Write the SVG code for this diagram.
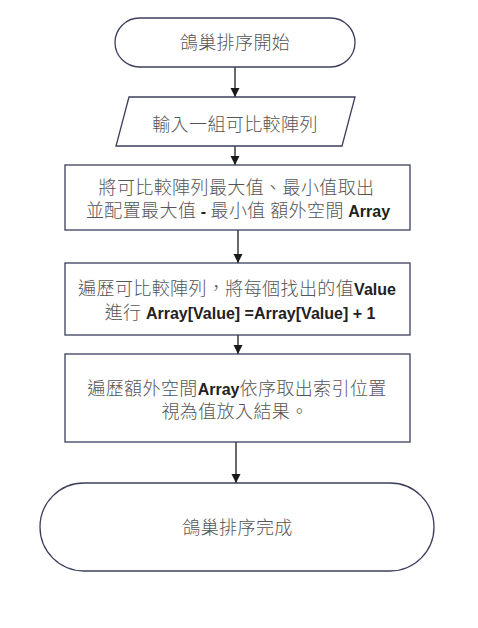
<svg xmlns="http://www.w3.org/2000/svg" width="478" height="628" viewBox="0 0 478 628">
<style>
.shape{fill:#ffffff;stroke:#3b3f5c;stroke-width:1.3}
.t{font-family:"Noto Sans CJK TC","Liberation Sans",sans-serif;font-size:18px;font-weight:300;letter-spacing:0.4px;fill:#555555;text-anchor:middle}
.l{font-family:"Liberation Sans",Arial,sans-serif;font-size:16px;font-weight:bold;letter-spacing:0;fill:#222222}
.conn{stroke:#1a1a1a;stroke-width:1.3;fill:none}
</style>
<defs>
<marker id="ah" markerUnits="userSpaceOnUse" markerWidth="9" markerHeight="10" viewBox="0 0 10 10" refX="10" refY="5" orient="auto">
<path d="M0,0 L10,5 L0,10 z" fill="#1a1a1a"/>
</marker>
</defs>
<rect width="478" height="628" fill="#ffffff"/>
<g id="connectors">
<line class="conn" x1="235" y1="67" x2="235" y2="97" marker-end="url(#ah)"/>
<line class="conn" x1="235" y1="146" x2="235" y2="165" marker-end="url(#ah)"/>
<line class="conn" x1="238" y1="230" x2="238" y2="263" marker-end="url(#ah)"/>
<line class="conn" x1="238" y1="335" x2="238" y2="354" marker-end="url(#ah)"/>
<line class="conn" x1="236" y1="442" x2="236" y2="483" marker-end="url(#ah)"/>
</g>
<g id="start">
<rect class="shape" x="115" y="18" width="240" height="49" rx="24.5"/>
<text class="t" x="235" y="48.5">鴿巢排序開始</text>
</g>
<g id="input">
<polygon class="shape" points="129,97 355,97 342,146 116,146"/>
<text class="t" x="235" y="130.5">輸入一組可比較陣列</text>
</g>
<g id="step1">
<rect class="shape" x="65" y="165" width="345" height="65"/>
<text class="t" x="236.5" y="193.5">將可比較陣列最大值、最小值取出</text>
<text class="t" x="238" y="217">並配置最大值<tspan class="l"> - </tspan>最小值<tspan class="l"> </tspan>額外空間<tspan class="l"> Array</tspan></text>
</g>
<g id="step2">
<rect class="shape" x="65" y="263" width="345" height="72"/>
<text class="t" x="237" y="295">遍歷可比較陣列，將每個找出的值<tspan class="l">Value</tspan></text>
<text class="t" x="240" y="318.5">進行<tspan class="l"> Array[Value] =Array[Value] + 1</tspan></text>
</g>
<g id="step3">
<rect class="shape" x="65" y="354" width="345" height="88"/>
<text class="t" x="237" y="394.5">遍歷額外空間<tspan class="l">Array</tspan>依序取出索引位置</text>
<text class="t" x="235" y="418">視為值放入結果。</text>
</g>
<g id="end">
<rect class="shape" x="40" y="483" width="394" height="88" rx="44"/>
<text class="t" x="237.5" y="533.5">鴿巢排序完成</text>
</g>
</svg>
